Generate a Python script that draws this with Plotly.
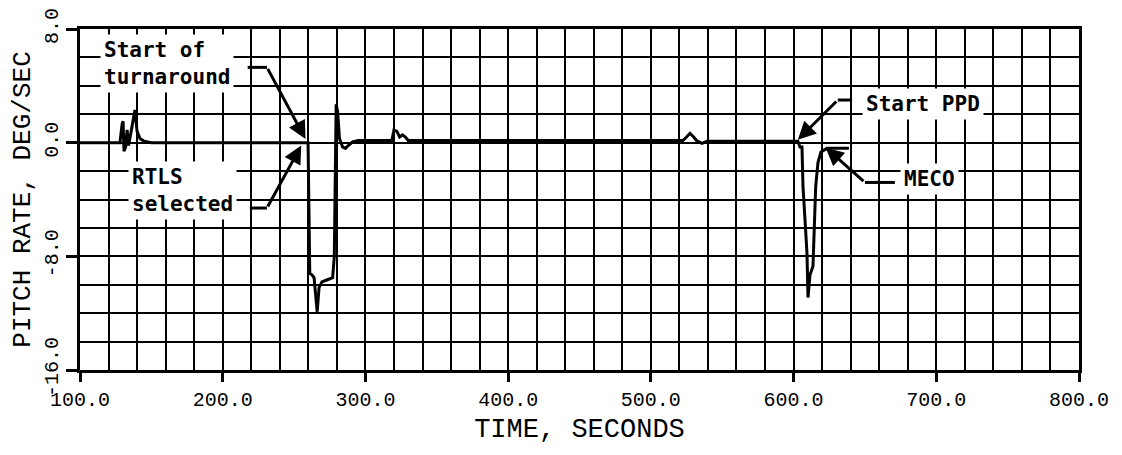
import plotly.graph_objects as go

# ---- data ----
time_s = [100, 128, 129.5, 130.2, 130.8, 132, 133, 134, 135.5, 137, 138.5, 140, 142, 145, 150,
          258, 259.8, 261, 262.5, 264, 265, 266.2, 267.5, 269.5, 272, 275, 277, 278.2, 279.5,
          280.5, 281.8, 284, 286, 288, 291, 295,
          318.5, 320, 322, 324, 326, 328, 330, 335,
          450, 522.5, 525, 527.4, 530, 532.3, 535.8, 539.3,
          603, 604.5, 605.9, 606.6, 608, 609.4, 610.1, 611.5, 613.6, 615, 615.5, 617.1, 619.2,
          623.4, 638.8]
pitch_rate = [0, 0, 1.3, 1.5, -0.6, -0.3, 0.9, -0.2, 0.6, 1.5, 2.3, 0.8, 0.3, 0.1, 0,
              0, 0, -9.2, -9.3, -9.5, -10.5, -11.9, -10.2, -9.8, -9.7, -9.6, -9.5, -8.0, 2.7,
              2.2, 0.3, -0.3, -0.4, -0.2, 0.05, 0.15,
              0.15, 0.9, 0.8, 0.4, 0.55, 0.4, 0.15, 0.15,
              0.15, 0.15, 0.4, 0.66, 0.4, 0.12, -0.05, 0.1,
              0.1, -0.3, -0.3, -3.1, -5.4, -7.8, -10.9, -9.3, -8.7, -5.4, -3.1, -1.4, -0.65,
              -0.4, -0.4]

x_tick_vals = [100, 200, 300, 400, 500, 600, 700, 800]
x_tick_text = ["100.0", "200.0", "300.0", "400.0", "500.0", "600.0", "700.0", "800.0"]
y_tick_vals = [-16, -8, 0, 8]
y_tick_text = ["-16.0", "-8.0", "0.0", "8.0"]

# event callouts: text, text anchor (t, rate), arrow tip (t, rate), bend (t, rate), stub end t
event_text = ["Start of<br>turnaround", "RTLS<br>selected", "Start PPD", "MECO"]
event_text_pos = [(114, 5.6), (133.6, -3.4), (648, 2.72), (674.6, -2.56)]
event_tip = [(258, 0.25), (255, -0.2), (603, 0.2), (622.5, -0.35)]
event_bend = [(231, 5.3), (231, -4.6), (631, 3.0), (650, -2.8)]
event_stub_end = [217.5, 219, 641, 671]

fig = go.Figure()
fig.add_trace(go.Scatter(x=time_s, y=pitch_rate, mode="lines",
                         line=dict(color="black", width=3), showlegend=False,
                         hoverinfo="skip"))

axis_font = dict(family="Liberation Mono, DejaVu Sans Mono, monospace", size=20, color="black")

for txt, (tx, ty), (px, py), (bx, by), sx in zip(event_text, event_text_pos, event_tip,
                                                  event_bend, event_stub_end):
    fig.add_annotation(x=tx, y=ty, xref="x", yref="y", text="<b>" + txt + "</b>",
                       showarrow=False, xanchor="left", yanchor="middle", align="left",
                       bgcolor="white", borderpad=3,
                       font=dict(family="DejaVu Sans Mono, monospace", size=21, color="black"))
    fig.add_shape(type="line", xref="x", yref="y", x0=sx, y0=by, x1=bx, y1=by,
                  line=dict(color="black", width=3))
    fig.add_annotation(x=px, y=py, xref="x", yref="y", ax=bx, ay=by, axref="x", ayref="y",
                       text="", showarrow=True, arrowhead=2, arrowsize=1.2,
                       arrowwidth=3, arrowcolor="black")

fig.update_xaxes(range=[100, 800], tickvals=x_tick_vals, ticktext=x_tick_text,
                 ticks="outside", ticklen=9, tickwidth=2.5, tickcolor="black",
                 showgrid=True, gridcolor="black", gridwidth=2,
                 minor=dict(dtick=20, tick0=100, showgrid=True, gridcolor="black", gridwidth=2),
                 showline=True, mirror=True, linecolor="black", linewidth=2.5,
                 zeroline=False, tickfont=axis_font, automargin=False,
                 ticklabeloverflow="allow",
                 title=dict(text="TIME, SECONDS", standoff=8,
                            font=dict(family="Liberation Mono, DejaVu Sans Mono, monospace",
                                      size=27, color="black")))
fig.update_yaxes(range=[-16, 8], tickvals=y_tick_vals, ticktext=y_tick_text, tickangle=-90,
                 ticks="outside", ticklen=11, tickwidth=2.5, tickcolor="black",
                 showgrid=True, gridcolor="black", gridwidth=2,
                 minor=dict(dtick=2, tick0=0, showgrid=True, gridcolor="black", gridwidth=2),
                 showline=True, mirror=True, linecolor="black", linewidth=2.5,
                 zeroline=False, tickfont=axis_font, automargin=False,
                 ticklabeloverflow="allow",
                 title=dict(text="PITCH RATE, DEG/SEC", standoff=8,
                            font=dict(family="Liberation Mono, DejaVu Sans Mono, monospace",
                                      size=26, color="black")))

# the page body adds an 8 px offset, so the figure is 8 px smaller each way
fig.update_layout(width=1114, height=447, margin=dict(l=72, r=43, t=21, b=85),
                  paper_bgcolor="white", plot_bgcolor="white", showlegend=False)

fig.write_html("out.html")
